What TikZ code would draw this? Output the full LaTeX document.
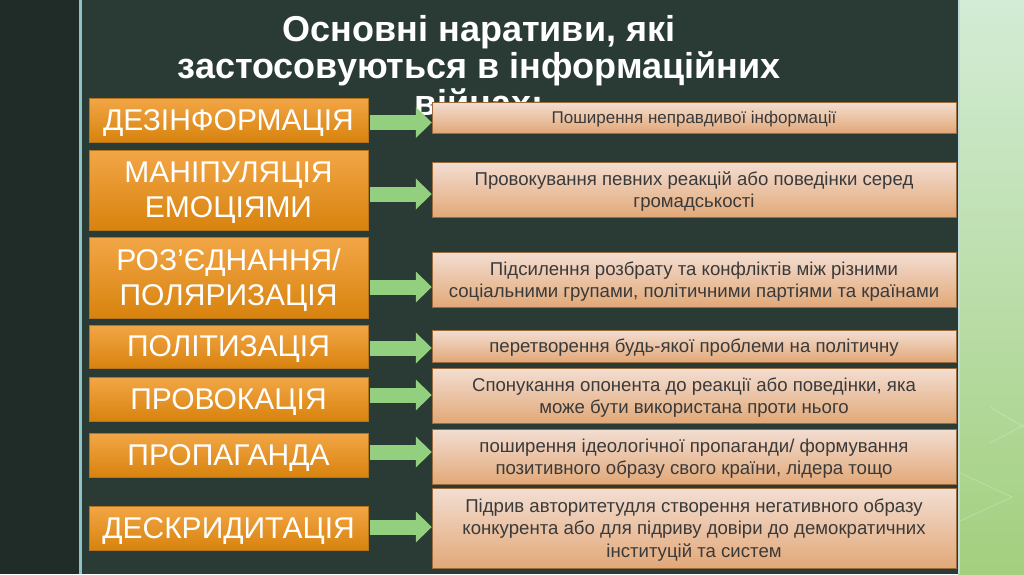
\documentclass[tikz,border=0pt]{standalone}
\usepackage{fontspec}
\setmainfont{Liberation Sans}
\usepackage{tikz}
\usetikzlibrary{arrows.meta}
\usepackage{xcolor}

\definecolor{sideDark}{HTML}{1F2C28}
\definecolor{panel}{HTML}{2A3A34}
\definecolor{edgeBlue}{HTML}{8EC3C6}
\definecolor{stripTop}{HTML}{D3ECD6}
\definecolor{stripBot}{HTML}{A3CF7E}
\definecolor{narTop}{HTML}{F2A646}
\definecolor{narBot}{HTML}{D8830E}
\definecolor{narEdge}{HTML}{B8741A}
\definecolor{descTop}{HTML}{F3DED2}
\definecolor{descBot}{HTML}{E2A878}
\definecolor{descEdge}{HTML}{9C6B3C}
\definecolor{descText}{HTML}{3A3A3A}
\definecolor{arrowGreen}{HTML}{92D07F}

\begin{document}
\begin{tikzpicture}[x=1pt,y=-1pt,
  nar/.style={draw=narEdge, top color=narTop, bottom color=narBot, text=white, align=center, minimum width=279pt, inner sep=0pt, text depth=0pt, font=\fontsize{30}{35}\selectfont},
  desc/.style={draw=descEdge, top color=descTop, bottom color=descBot, text=descText, align=center, minimum width=524pt, inner sep=0pt, text depth=0pt, font=\fontsize{18.6}{22.5}\selectfont},
  link/.style={-{Triangle[length=16pt,width=30pt]}, line width=15pt, draw=arrowGreen, shorten <=2pt}
]
\useasboundingbox (0,0) rectangle (1024,574);
\fill[sideDark] (0,0) rectangle (1024,574);
\fill[panel] (82,0) rectangle (958,574);
\fill[edgeBlue] (79,0) rectangle (82,574);
\shade[top color=stripTop, bottom color=stripBot] (958,0) rectangle (1024,574);
\fill[edgeBlue!60!white] (958,0) rectangle (960,574);
\draw[white, opacity=0.2, line width=1pt] (990,407) -- (1024,427) (990,443) -- (1024,425) (960,473) -- (1012,497) -- (960,521);

\node[text=white, align=center, font=\bfseries\fontsize{36}{37}\selectfont] (title) at (479,66) {Основні наративи, які\\застосовуються в інформаційних\\війнах:};

\node[nar, minimum height=44pt] (disinfo) at (228.5,120) {ДЕЗІНФОРМАЦІЯ};
\node[nar, minimum height=80pt] (emotion) at (228.5,190) {МАНІПУЛЯЦІЯ\\ЕМОЦІЯМИ};
\node[nar, minimum height=81pt] (polar) at (228.5,277.5) {РОЗ’ЄДНАННЯ/\\ПОЛЯРИЗАЦІЯ};
\node[nar, minimum height=43pt] (politic) at (228.5,346.5) {ПОЛІТИЗАЦІЯ};
\node[nar, minimum height=44pt] (provoc) at (228.5,399) {ПРОВОКАЦІЯ};
\node[nar, minimum height=44pt] (propag) at (228.5,455) {ПРОПАГАНДА};
\node[nar, minimum height=44pt] (discred) at (228.5,528) {ДЕСКРИДИТАЦІЯ};

\node[desc, minimum height=31pt, font=\fontsize{17}{21}\selectfont] (disinfoText) at (694,117.5) {Поширення неправдивої інформації};
\node[desc, minimum height=55pt] (emotionText) at (694,189.5) {Провокування певних реакцій або поведінки серед\\громадськості};
\node[desc, minimum height=55pt] (polarText) at (694,279.5) {Підсилення розбрату та конфліктів між різними\\соціальними групами, політичними партіями та країнами};
\node[desc, minimum height=32pt] (politicText) at (694,346) {перетворення будь-якої проблеми на політичну};
\node[desc, minimum height=55pt] (provocText) at (694,395.5) {Спонукання опонента до реакції або поведінки, яка\\може бути використана проти нього};
\node[desc, minimum height=55pt] (propagText) at (694,456.5) {поширення ідеологічної пропаганди/ формування\\позитивного образу свого країни, лідера тощо};
\node[desc, minimum height=80pt] (discredText) at (694,528) {Підрив авторитетудля створення негативного образу\\конкурента або для підриву довіри до демократичних\\інституцій та систем};

\draw[link] ([yshift=-2.5pt]disinfo.east) -- ([yshift=-2.5pt]disinfo.east -| disinfoText.west);
\draw[link] ([yshift=-4pt]emotion.east) -- ([yshift=-4pt]emotion.east -| emotionText.west);
\draw[link] ([yshift=-9.5pt]polar.east) -- ([yshift=-9.5pt]polar.east -| polarText.west);
\draw[link] ([yshift=-1.5pt]politic.east) -- ([yshift=-1.5pt]politic.east -| politicText.west);
\draw[link] ([yshift=4pt]provoc.east) -- ([yshift=4pt]provoc.east -| provocText.west);
\draw[link] ([yshift=3pt]propag.east) -- ([yshift=3pt]propag.east -| propagText.west);
\draw[link] ([yshift=1pt]discred.east) -- ([yshift=1pt]discred.east -| discredText.west);
\end{tikzpicture}
\end{document}
